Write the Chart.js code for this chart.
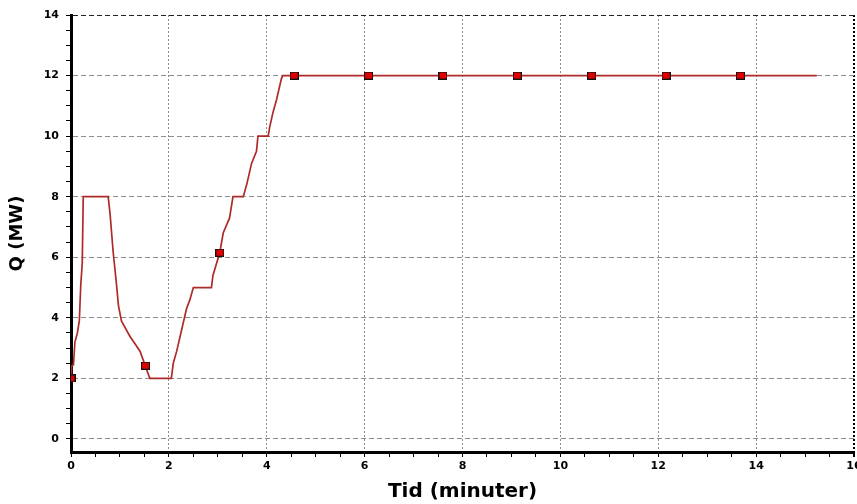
<!DOCTYPE html>
<html lang="sv">
<head>
<meta charset="UTF-8">
<title>Q (MW) mot tid</title>
<style>
body { margin: 0; background: #fff; }
.chart-box { width: 857px; height: 504px; position: relative; }
</style>
</head>
<body>
<div class="chart-box"><canvas id="qChart"></canvas></div>

<script src="https://cdn.jsdelivr.net/npm/chart.js"></script>
<script>
// Curve (time in minutes, Q in MW)
const timeMin = [0, 0.01, 0.05, 0.08, 0.13, 0.17, 0.20, 0.23, 0.25, 0.76, 0.80, 0.83, 0.86, 0.93, 0.97, 1.03, 1.20, 1.41, 1.51, 1.61, 2.05, 2.09, 2.16, 2.26, 2.36, 2.43, 2.50, 2.87, 2.90, 3.04, 3.11, 3.24, 3.31, 3.52, 3.59, 3.69, 3.79, 3.82, 4.03, 4.06, 4.13, 4.20, 4.30, 4.33, 15.24];
const qMW     = [2, 2.4, 2.45, 3.2, 3.5, 3.9, 5.1, 5.8, 8, 8, 7.4, 6.8, 6.2, 5.1, 4.4, 3.9, 3.4, 2.9, 2.45, 2, 2, 2.5, 2.9, 3.6, 4.3, 4.6, 5, 5, 5.4, 6.15, 6.8, 7.3, 8, 8, 8.4, 9.1, 9.5, 10, 10, 10.3, 10.8, 11.2, 11.9, 12, 12];

// square markers
const markerTime = [0, 1.52, 3.04, 4.56, 6.08, 7.60, 9.12, 10.64, 12.16, 13.68];
const markerQ    = [2, 2.42, 6.15, 12, 12, 12, 12, 12, 12, 12];

const xTickLabels = [0, 2, 4, 6, 8, 10, 12, 14, 16];
const yTickLabels = [0, 2, 4, 6, 8, 10, 12, 14];

const FONT = "'DejaVu Sans', sans-serif";

// little red box with black edge for the markers
const markerImg = document.createElement('canvas');
markerImg.width = 9;
markerImg.height = 8;
(function () {
    const c = markerImg.getContext('2d');
    c.fillStyle = '#111';
    c.fillRect(0, 0, 9, 8);
    c.fillStyle = '#dc0000';
    c.fillRect(1, 1, 7, 6);
})();

// major labels every 2, minor tick marks every 0.5
function withMinor(labels) {
    const out = [];
    const last = labels[labels.length - 1];
    for (let v = labels[0]; v <= last + 1e-9; v += 0.5) out.push({ value: v });
    return out;
}

function gridColor(ctx) {
    const v = ctx.tick ? ctx.tick.value : 0;
    if (v % 2 !== 0) return 'rgba(0,0,0,0)';
    return '#8c8c8c';
}

new Chart(document.getElementById('qChart'), {
    type: 'line',
    data: {
        datasets: [{
            type: 'scatter',
            data: markerTime.map((t, i) => ({ x: t, y: markerQ[i] })),
            pointStyle: markerImg,
            pointRadius: 5,
            showLine: false
        }, {
            data: timeMin.map((t, i) => ({ x: t, y: qMW[i] })),
            borderColor: '#b02a2a',
            borderWidth: 1.7,
            pointRadius: 0,
            tension: 0,
            fill: false
        }]
    },
    options: {
        responsive: true,
        maintainAspectRatio: false,
        animation: false,
        layout: { autoPadding: false, padding: { top: 15, right: 3, left: 0, bottom: 0 } },
        plugins: { legend: { display: false }, tooltip: { enabled: false } },
        scales: {
            x: {
                type: 'linear',
                min: 0,
                max: 16,
                afterBuildTicks: s => { s.ticks = withMinor(xTickLabels); },
                afterFit: s => { s.height = 52; s.paddingLeft = 0; s.paddingRight = 0; },
                ticks: {
                    autoSkip: false,
                    maxRotation: 0,
                    padding: 3,
                    color: '#000',
                    font: { family: FONT, size: 11, weight: 'bold' },
                    callback: v => (v % 2 === 0 ? v : '')
                },
                grid: {
                    color: ctx => (ctx.tick && ctx.tick.value === 16 ? '#000' : gridColor(ctx)),
                    lineWidth: ctx => (ctx.tick && ctx.tick.value === 16 ? 2 : 1),
                    tickColor: '#000',
                    tickLength: 5
                },
                border: { display: true, color: '#000', width: 3, dash: [2, 2] },
                title: {
                    display: true,
                    text: 'Tid (minuter)',
                    color: '#000',
                    font: { family: FONT, size: 20, weight: 'bold' },
                    padding: { top: 0, bottom: 0 }
                }
            },
            y: {
                type: 'linear',
                min: -0.43,
                max: 14,
                afterBuildTicks: s => { s.ticks = withMinor(yTickLabels); },
                afterFit: s => { s.width = 71; s.paddingTop = 0; s.paddingBottom = 0; },
                ticks: {
                    autoSkip: false,
                    padding: 7,
                    color: '#000',
                    font: { family: FONT, size: 11, weight: 'bold' },
                    callback: v => (v % 2 === 0 ? v : '')
                },
                grid: {
                    color: ctx => (ctx.tick && ctx.tick.value === 14 ? '#222' : gridColor(ctx)),
                    lineWidth: 1,
                    tickColor: '#000',
                    tickLength: 5
                },
                border: { display: true, color: '#000', width: 3, dash: [5, 3] },
                title: {
                    display: true,
                    text: 'Q (MW)',
                    color: '#000',
                    font: { family: FONT, size: 18, weight: 'bold' },
                    padding: { top: 7, bottom: 0 }
                }
            }
        }
    }
});
</script>
</body>
</html>
